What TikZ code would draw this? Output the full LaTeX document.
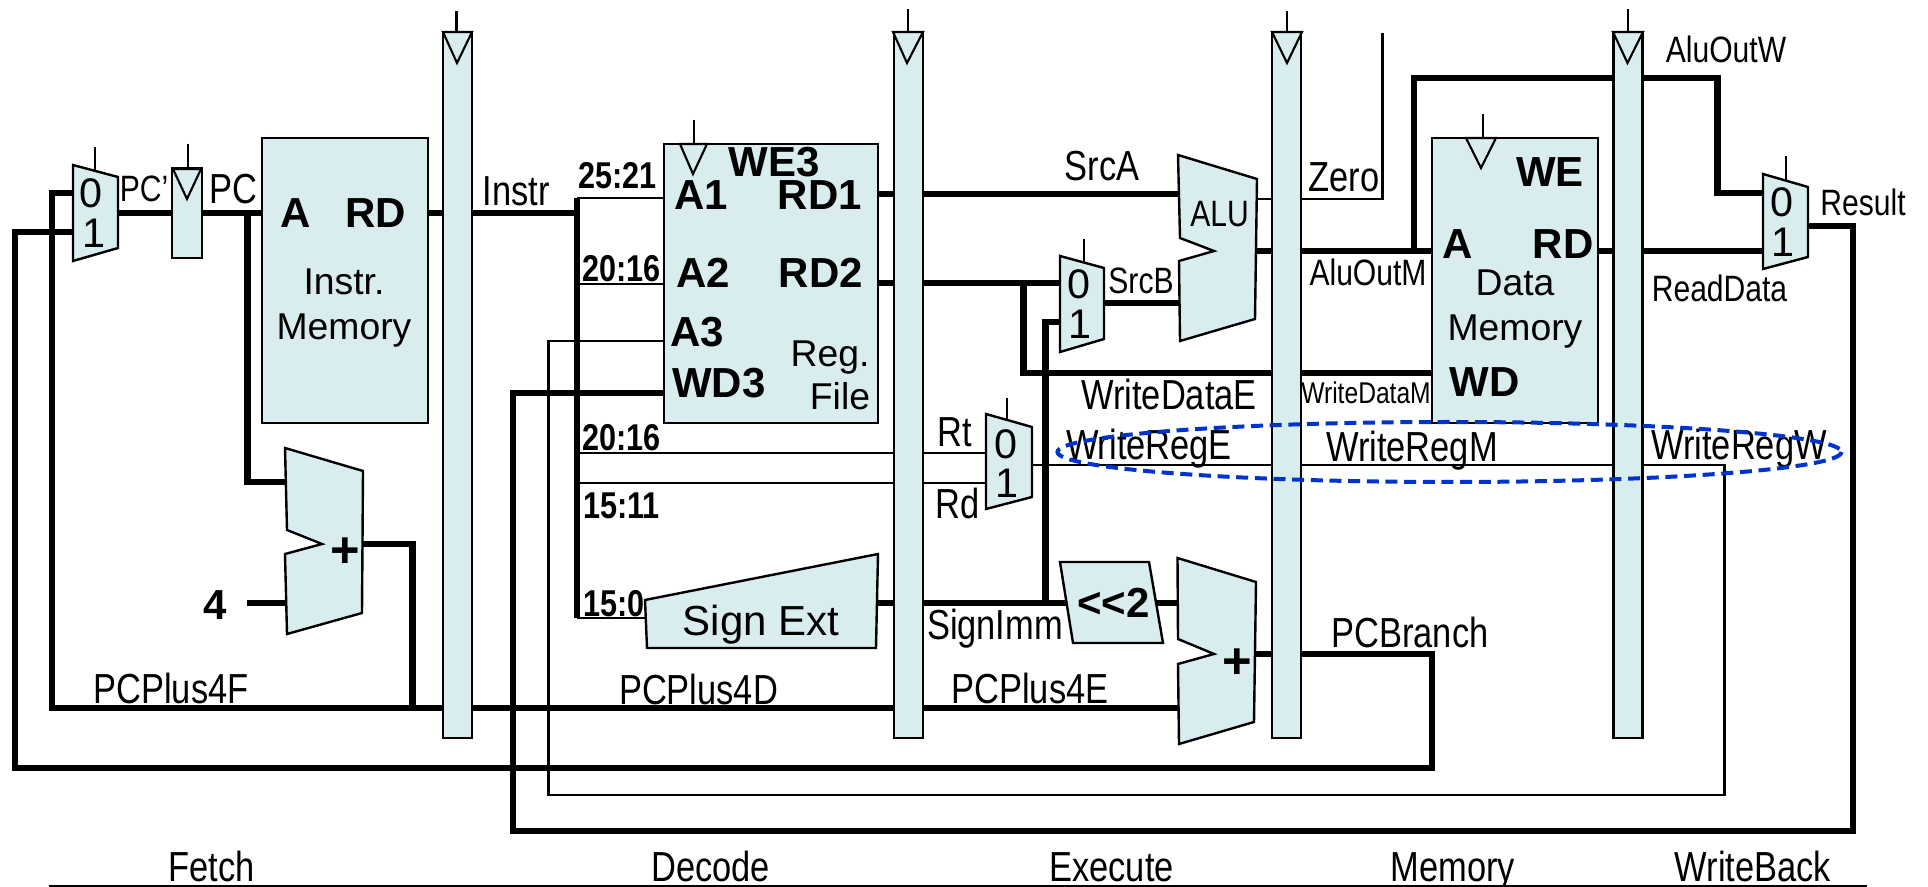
\documentclass[tikz,border=0pt]{standalone}
\usepackage{fontspec}
\setmainfont{Liberation Sans}
\newfontfamily\fnarrow[FakeStretch=0.82]{Liberation Sans}
\usetikzlibrary{backgrounds}
\definecolor{blockfill}{RGB}{217,236,238}
\definecolor{hiblue}{RGB}{0,51,204}
\tikzset{
  bus/.style={line width=4.9pt,line join=miter,line cap=rect},
  sig/.style={line width=1.7pt,line join=miter},
  outl/.style={draw=black,line width=1.8pt,fill=blockfill,line join=miter},
  clktri/.style={draw=black,line width=1.6pt},
  block/.style={outl,rectangle,inner sep=0pt,outer sep=0pt},
  regbar/.style={block,minimum width=21.75pt,minimum height=529.5pt},
  txt/.style={inner sep=0pt,outer sep=0pt,text depth=0pt,anchor=center,align=center},
  lab/.style={txt,font=\fnarrow\fontsize{31.5}{36}\selectfont,text height=22.5pt},
  slab/.style={txt,font=\fnarrow\fontsize{27.5}{32}\selectfont,text height=19.7pt},
  tlab/.style={txt,font=\fnarrow\fontsize{22.5}{26}\selectfont,text height=16pt},
  blk/.style={txt,font=\fontsize{28}{32}\selectfont,text height=20pt},
  bigt/.style={txt,font=\fontsize{31.5}{36}\selectfont,text height=22.5pt},
  blab/.style={txt,font=\bfseries\fontsize{31.5}{36}\selectfont,text height=22.5pt},
  plusl/.style={txt,font=\bfseries\fontsize{38}{42}\selectfont,text height=27pt},
  bitl/.style={txt,anchor=west,font=\fnarrow\bfseries\fontsize{28}{32}\selectfont,text height=20pt},
  digit/.style={txt,font=\fontsize{31}{35}\selectfont,text height=22.2pt},
}
\begin{document}
\begin{tikzpicture}[x=0.75pt,y=-0.75pt]
\useasboundingbox (0,0) rectangle (1928,887);

% rectangular blocks
\node[block,minimum width=22.5pt,minimum height=67.5pt] (pcreg) at (187,213) {};
\node[block,minimum width=124.5pt,minimum height=213.75pt] (imem) at (345,280.5) {};
\node[regbar] (reg1) at (457.5,385) {};
\node[block,minimum width=160.5pt,minimum height=209.25pt] (regfile) at (771,283.5) {};
\node[regbar] (reg2) at (908.5,385) {};
\node[regbar] (reg3) at (1286.5,385) {};
\node[block,minimum width=124.5pt,minimum height=213.75pt] (dmem) at (1515,280.5) {};
\node[regbar] (reg4) at (1628,385) {};

% ports and corners
\foreach \n/\x/\y in {
 mAi/73/193, mAj/73/232, mAo/118/213, mAc/95/147, mAd/95/172,
 pA/52/193, pB/52/708, eI/1179/708,
 bA/15/232, bB/15/768, bC/1432/768, bD/1432/654, eO/1256/654,
 pT/247.5/213, pU/247.5/482, fI/285/482, fW/250.5/603, fJ/287/603,
 fO/363/544, fP/412.5/544, fQ/412.5/708,
 cPc/188/144, cPd/188/168,
 iO/428/213, bT/577/213, bU/577/201, bV/577/615,
 aT/577/198, a1/664/198, a2/664/284, b2/577/284,
 a3/664/341, wA/548.5/341, wB/548.5/795, wC/1724.5/795, wD/1724.5/465, wE/1032/465,
 d3/664/393, dA/513/393, dB/513/831, dC/1853/831, dD/1853/226, dE/1809/226,
 rtA/577/453, rtB/986/453, rdA/577/483, rdB/986/483, sA/577/618, sB/646/618,
 rfC/694/120, rfD/694/144,
 r1/878/194, aI/1179/194, r2/878/283, mBi/1060/283, wdA/1023.5/283, wdB/1023.5/373, wdC/1432/373,
 mBo/1104/303, aJ/1179/303, mBj/1060/322, siA/1045.5/322, siB/1045.5/603,
 sxO/878/603, shI/1066/603, shO/1156/603, eJ/1179/603,
 mBc/1084/239, mBd/1084/265, mCc/1007/398, mCd/1007/420,
 zA/1257/199, zB/1382.5/199, zC/1382.5/33,
 aO/1256/251, aA/1432/251, aB/1414/251, aC/1414/78, aD/1717.5/78, aE/1717.5/193, mDi/1763/193,
 rdO/1598/251, mDj/1763/251,
 mDc/1786/156, mDd/1786/180, dmC/1483/114, dmD/1483/138,
 k1/456.5/11, k2/908/9, k3/1287/11, k4/1628/9,
 lA/49/886, lB/1867/886}
 {\coordinate (\n) at (\x,\y);}

\begin{pgfonlayer}{background}
  % thick buses
  \draw[bus] (mAi) -- (pA) -- (pB) -- (eI);
  \draw[bus] (mAj) -- (bA) -- (bB) -- (bC) -- (bD) -- (eO);
  \draw[bus] (mAo) -- (pcreg.west);
  \draw[bus] (pcreg.east) -- (pcreg.east -| imem.west);
  \draw[bus] (pT) -- (pU) -- (fI);
  \draw[bus] (fW) -- (fJ);
  \draw[bus] (fO) -- (fP) -- (fQ);
  \draw[bus] (iO) -- (bT);
  \draw[bus] (bU) -- (bV);
  \draw[bus] (d3) -- (dA) -- (dB) -- (dC) -- (dD) -- (dE);
  \draw[bus] (r1) -- (aI);
  \draw[bus] (r2) -- (mBi);
  \draw[bus] (wdA) -- (wdB) -- (wdC);
  \draw[bus] (mBo) -- (aJ);
  \draw[bus] (mBj) -- (siA) -- (siB);
  \draw[bus] (sxO) -- (shI);
  \draw[bus] (shO) -- (eJ);
  \draw[bus] (aO) -- (aA);
  \draw[bus] (aB) -- (aC) -- (aD) -- (aE) -- (mDi);
  \draw[bus] (rdO) -- (mDj);
  % thin signals
  \draw[sig] (aT) -- (a1);
  \draw[sig] (b2) -- (a2);
  \draw[sig] (a3) -- (wA) -- (wB) -- (wC) -- (wD) -- (wE);
  \draw[sig] (rtA) -- (rtB);
  \draw[sig] (rdA) -- (rdB);
  \draw[sig] (sA) -- (sB);
  \draw[sig] (zA) -- (zB) -- (zC);
  \draw[sig] (mAc) -- (mAd);
  \draw[sig] (cPc) -- (cPd);
  \draw[sig] (rfC) -- (rfD);
  \draw[sig] (mBc) -- (mBd);
  \draw[sig] (mCc) -- (mCd);
  \draw[sig] (mDc) -- (mDd);
  \draw[sig] (dmC) -- (dmD);
  \draw[sig] (k1) -- (k1 |- reg1.north);
  \draw[sig] (k2) -- (k2 |- reg2.north);
  \draw[sig] (k3) -- (k3 |- reg3.north);
  \draw[sig] (k4) -- (k4 |- reg4.north);
\end{pgfonlayer}

% muxes
\draw[outl] (73,165) -- (118,177) -- (118,248) -- (73,261) -- cycle;
\draw[outl] (1060,256) -- (1104,268) -- (1104,339) -- (1060,352) -- cycle;
\draw[outl] (986,414) -- (1032,427) -- (1032,497) -- (986,509) -- cycle;
\draw[outl] (1763,174) -- (1808,187) -- (1808,257) -- (1763,269) -- cycle;
% ALU and adders
\draw[outl] (1178,155) -- (1257,179) -- (1255,319) -- (1180,341) -- (1179,261) -- (1214,251) -- (1180,238) -- cycle;
\draw[outl] (1177.5,558) -- (1256,582) -- (1254,722) -- (1179,744) -- (1178,664) -- (1214,654) -- (1178,639) -- cycle;
\draw[outl] (285,448) -- (363,471) -- (362,613) -- (287,634) -- (285,554) -- (322,544) -- (287,530) -- cycle;
% sign extend, shifter
\draw[outl] (645,600) -- (878,554) -- (876,648) -- (647,648) -- cycle;
\draw[outl] (1060,562) -- (1149,562) -- (1163,643) -- (1073,643) -- cycle;
% clock triangles
\draw[clktri] (173,169) -- (201,169) -- (187,199) -- cycle;
\draw[clktri] (443,32) -- (472,32) -- (457,63) -- cycle;
\draw[clktri] (893,32) -- (923,32) -- (907,63) -- cycle;
\draw[clktri] (1272,32) -- (1302,32) -- (1287,63) -- cycle;
\draw[clktri] (1613,32) -- (1643,32) -- (1627.5,63) -- cycle;
\draw[clktri] (680,144) -- (707,144) -- (693,174) -- cycle;
\draw[clktri] (1466,138) -- (1496,138) -- (1481,168) -- cycle;

% mux digits
\node[digit] (m1z) at (91,193) {0};
\node[digit] (m1o) at (94,233) {1};
\node[digit] (m2z) at (1079,284) {0};
\node[digit] (m2o) at (1080,324) {1};
\node[digit] (m3z) at (1006,444) {0};
\node[digit] (m3o) at (1007,483) {1};
\node[digit] (m4z) at (1782,202) {0};
\node[digit] (m4o) at (1783,242) {1};

% block texts
\node[blab] (tA) at (296,213) {A};
\node[blab] (tRD) at (376,213) {RD};
\node[blk] (tI1) at (344,281) {Instr.};
\node[blk] (tI2) at (344,326) {Memory};
\node[blab] (tWE3) at (774,162) {WE3};
\node[blab] (tA1) at (701,195) {A1};
\node[blab] (tRD1) at (820,195) {RD1};
\node[blab] (tA2) at (703,273) {A2};
\node[blab] (tRD2) at (821,273) {RD2};
\node[blab] (tA3) at (697,332) {A3};
\node[blab] (tWD3) at (719,383) {WD3};
\node[blk] (tReg) at (830,353) {Reg.};
\node[blk] (tFile) at (840,396) {File};
\node[blab] (tWE) at (1550,172) {WE};
\node[blab] (tDA) at (1458,244) {A};
\node[blab] (tDRD) at (1563,244) {RD};
\node[blk] (tD1) at (1515,282) {Data};
\node[blk] (tD2) at (1515,327) {Memory};
\node[blab] (tWD) at (1484.5,382) {WD};
\node[slab] (tALU) at (1219.5,213) {ALU};
\node[bigt] (tSE) at (761,620) {Sign Ext};
\node[blab] (tSh) at (1113.5,603) {{<}{<}2};
\node[plusl] (tP1) at (345,550) {+};
\node[plusl] (tP2) at (1237,660) {+};
\node[blab] (t4) at (215.5,604) {4};

% bit-field labels
\node[bitl] (f1) at (578,175) {25:21};
\node[bitl] (f2) at (582,268) {20:16};
\node[bitl] (f3) at (582,437) {20:16};
\node[bitl] (f4) at (583,505) {15:11};
\node[bitl] (f5) at (583,603) {15:0};

% signal labels
\node[slab] (lPCp) at (144,188) {PC’};
\node[lab] (lPC) at (233,189) {PC};
\node[lab] (lInstr) at (516,191) {Instr};
\node[lab] (lF) at (171,688) {PCPlus4F};
\node[lab] (lD) at (698.5,689) {PCPlus4D};
\node[lab] (lE) at (1030,688) {PCPlus4E};
\node[lab] (lSI) at (995,624) {SignImm};
\node[lab] (lRt) at (955,432) {Rt};
\node[lab] (lRd) at (958,504) {Rd};
\node[lab] (lSA) at (1102,166) {SrcA};
\node[slab] (lSB) at (1141,280) {SrcB};
\node[lab] (lZ) at (1344,177) {Zero};
\node[slab] (lAM) at (1368,272) {AluOutM};
\node[lab] (lWDE) at (1169,395) {WriteDataE};
\node[tlab] (lWDM) at (1366,393) {WriteDataM};
\node[lab] (lWRE) at (1149,445) {WriteRegE};
\node[lab] (lWRM) at (1412,447) {WriteRegM};
\node[lab] (lWRW) at (1739,445) {WriteRegW};
\node[slab] (lAW) at (1726,49) {AluOutW};
\node[slab] (lRes) at (1863,202) {Result};
\node[slab] (lRD) at (1719.5,288) {ReadData};
\node[lab] (lPB) at (1410,632) {PCBranch};

% stage names
\node[lab] (sF) at (211.5,866) {Fetch};
\node[lab] (sD) at (710.5,866) {Decode};
\node[lab] (sE) at (1111.5,866) {Execute};
\node[lab] (sM) at (1453,866) {Memory};
\node[lab] (sW) at (1753,866) {WriteBack};
\draw[line width=1.5pt] (lA) -- (lB);

% highlight
\draw[hiblue,line width=3pt,dash pattern=on 9pt off 5pt] (1449.5,452) ellipse [x radius=392,y radius=30];
\end{tikzpicture}
\end{document}
